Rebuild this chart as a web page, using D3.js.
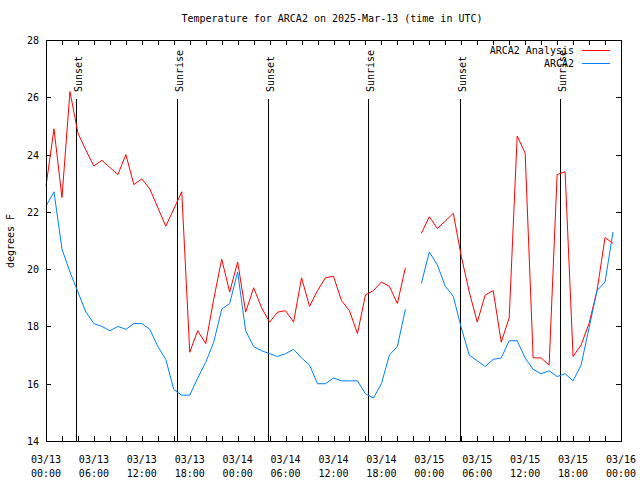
<!DOCTYPE html>
<html><head><meta charset="utf-8">
<script src="https://cdn.jsdelivr.net/npm/d3@7"></script>
<style>
body{margin:0;background:#fff}
text{font-family:"DejaVu Sans Mono","Liberation Mono",monospace;font-size:10px;fill:#000}
</style>
</head><body>
<svg id="chart" width="640" height="480"></svg>
<script>
// ---- data (hourly, starting 2025-03-13 00:00 UTC) ----
const startTime = "2025-03-13T00:00:00Z";
const endTime = "2025-03-16T00:00:00Z";
const analysisTemps = [22.9,24.9,22.5,26.2,24.75,24.15,23.6,23.8,23.55,23.3,24.0,22.95,23.15,22.8,22.15,21.5,
  22.1,22.7,17.1,17.85,17.4,18.95,20.35,19.2,20.25,18.5,19.35,18.65,18.15,18.5,18.55,18.15,
  19.7,18.7,19.25,19.7,19.75,18.9,18.55,17.75,19.1,19.25,19.55,19.4,18.8,20.05,null,21.25,
  21.83,21.42,21.68,21.95,20.45,19.2,18.15,19.1,19.25,17.45,18.3,24.65,24.05,16.9,16.9,16.65,
  23.3,23.4,16.95,17.35,18.1,19.25,21.1,20.9];
const observedTemps = [22.2,22.7,20.7,19.9,19.2,18.5,18.1,18.0,17.85,18.0,17.9,18.1,18.1,17.9,17.3,16.85,
  15.8,15.6,15.6,16.2,16.75,17.45,18.6,18.8,19.9,17.85,17.3,17.15,17.05,16.95,17.05,17.2,
  16.9,16.65,16.0,16.0,16.2,16.1,16.1,16.1,15.65,15.5,16.0,17.0,17.3,18.6,null,19.5,
  20.6,20.15,19.4,19.05,17.95,17.0,16.8,16.6,16.85,16.9,17.5,17.5,16.9,16.5,16.35,16.45,
  16.25,16.35,16.1,16.65,17.95,19.25,19.55,21.3];
const sunsetTimes = ["2025-03-13T03:47:00Z","2025-03-14T03:49:00Z","2025-03-15T03:49:00Z"];
const sunriseTimes = ["2025-03-13T16:23:00Z","2025-03-14T16:18:00Z","2025-03-15T16:20:00Z"];
const yTickValues = [14,16,18,20,22,24,26,28];
const seriesNames = ["ARCA2 Analysis","ARCA2"];
const seriesColors = ["#ff0000","#0080ff"];
const titleText = "Temperature for ARCA2 on 2025-Mar-13 (time in UTC)";
const yLabelText = "degrees F";

// ---- layout ----
const L = 46, R = 621, T = 40, B = 441;
const svg = d3.select("#chart");
const t0 = new Date(startTime), t1 = new Date(endTime);
const x = d3.scaleUtc().domain([t0, t1]).range([L, R]);
const y = d3.scaleLinear().domain([14, 28]).range([B, T]);
const timeAt = i => d3.utcHour.offset(t0, i);

// title
svg.append("text").attr("x", 332).attr("y", 22).attr("text-anchor", "middle").text(titleText);
// y label
svg.append("text").attr("transform", "translate(14,241) rotate(-90)").attr("text-anchor", "middle").text(yLabelText);

// axes (ticks inward, mirrored)
const g = svg.append("g").attr("shape-rendering", "crispEdges");
const hour2 = d3.utcHour.every(2);
g.append("g").attr("transform", `translate(0,${B})`)
  .call(d3.axisBottom(x).ticks(hour2).tickSize(-5).tickFormat(""))
  .call(a => a.select(".domain").remove());
g.append("g").attr("transform", `translate(0,${T})`)
  .call(d3.axisTop(x).ticks(hour2).tickSize(-5).tickFormat(""))
  .call(a => a.select(".domain").remove());
g.append("g").attr("transform", `translate(${L},0)`)
  .call(d3.axisLeft(y).tickValues(yTickValues).tickSize(-5).tickFormat(""))
  .call(a => a.select(".domain").remove());
g.append("g").attr("transform", `translate(${R},0)`)
  .call(d3.axisRight(y).tickValues(yTickValues).tickSize(-5).tickFormat(""))
  .call(a => a.select(".domain").remove());
g.selectAll(".tick line").attr("stroke", "#000");

// y tick labels
svg.append("g").selectAll("text").data(yTickValues).join("text")
  .attr("x", L - 7).attr("y", d => y(d) + 4).attr("text-anchor", "end").text(d => d);

// x tick labels (two lines)
const labelTicks = x.ticks(d3.utcHour.every(6));
const fDate = d3.utcFormat("%m/%d"), fTime = d3.utcFormat("%H:%M");
const xl = svg.append("g").selectAll("text").data(labelTicks).join("text")
  .attr("text-anchor", "middle");
xl.append("tspan").attr("x", d => x(d)).attr("y", 463).text(d => fDate(d));
xl.append("tspan").attr("x", d => x(d)).attr("y", 477).text(d => fTime(d));

// sunrise / sunset lines
const events = sunsetTimes.map(s => ({t: new Date(s), label: "Sunset"}))
  .concat(sunriseTimes.map(s => ({t: new Date(s), label: "Sunrise"})));
const ev = svg.append("g");
ev.selectAll("line").data(events).join("line")
  .attr("x1", d => Math.round(x(d.t)) + 0.5).attr("x2", d => Math.round(x(d.t)) + 0.5)
  .attr("y1", 99).attr("y2", B).attr("stroke", "#000").attr("stroke-width", 1);
ev.selectAll("text").data(events).join("text")
  .attr("transform", d => `translate(${Math.round(x(d.t)) + 6},92) rotate(-90)`)
  .attr("text-anchor", "start").text(d => d.label);

// series lines
const line = d3.line().defined(d => d.v != null).x(d => x(d.t)).y(d => y(d.v));
[analysisTemps, observedTemps].forEach((arr, k) => {
  const pts = arr.map((v, i) => ({t: timeAt(i), v}));
  svg.append("path").datum(pts).attr("d", line)
    .attr("fill", "none").attr("stroke", seriesColors[k]).attr("stroke-width", 1);
});

// border
svg.append("rect").attr("x", L + 0.5).attr("y", T + 0.5).attr("width", R - L).attr("height", B - T)
  .attr("fill", "none").attr("stroke", "#000").attr("stroke-width", 1);

// legend
const lg = svg.append("g");
seriesNames.forEach((n, k) => {
  const yy = 50 + k * 13;
  lg.append("text").attr("x", 574).attr("y", yy + 4).attr("text-anchor", "end").text(n);
  lg.append("line").attr("x1", 582).attr("x2", 610).attr("y1", yy + 0.5).attr("y2", yy + 0.5)
    .attr("stroke", seriesColors[k]).attr("stroke-width", 1);
});
</script>
</body></html>
